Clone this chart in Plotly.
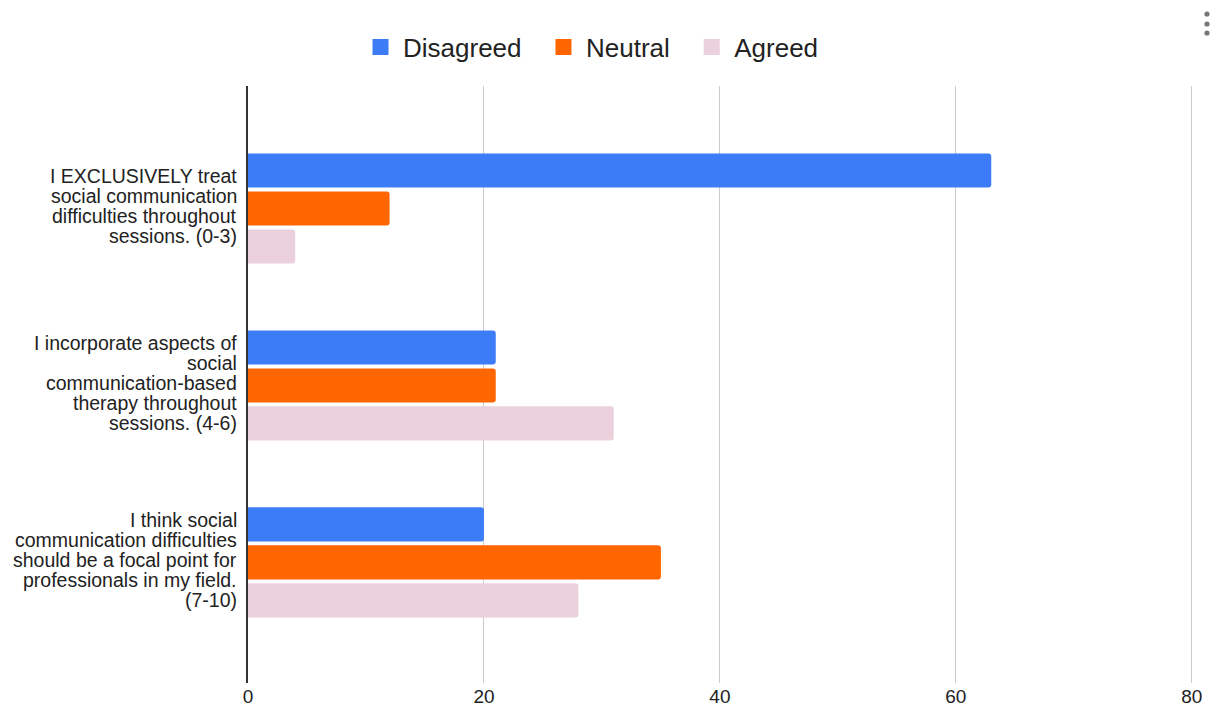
import plotly.graph_objects as go

# Survey responses per statement
categories = ["stmt_0_3", "stmt_4_6", "stmt_7_10"]
label_lines = [
    ["I EXCLUSIVELY treat", "social communication", "difficulties throughout", "sessions. (0-3)"],
    ["I incorporate aspects of", "social", "communication-based", "therapy throughout", "sessions. (4-6)"],
    ["I think social", "communication difficulties", "should be a focal point for",
     "professionals in my field.", "(7-10)"],
]
series_names = ["Disagreed", "Neutral", "Agreed"]
disagreed = [63, 21, 20]
neutral = [12, 21, 35]
agreed = [4, 31, 28]
x_ticks = [0, 20, 40, 60, 80]

colors = ["#3c7cf7", "#ff6600", "#ead1dc"]
font_family = "Liberation Sans, Arial, sans-serif"

fig = go.Figure()
for name, vals, col in zip(series_names, [disagreed, neutral, agreed], colors):
    fig.add_trace(go.Bar(
        y=categories, x=vals, name=name, orientation="h",
        marker=dict(color=col, line=dict(width=0)),
        showlegend=False, hoverinfo="x+name",
    ))
    # legend swatch
    fig.add_trace(go.Scatter(
        x=[None], y=[None], mode="markers", name=name + "\u00a0\u00a0",
        marker=dict(symbol="square", size=20, color=col),
    ))

# Multi-line category labels, one text line per annotation for tight spacing
line_step = 20
annotations = []
for cat, lines in zip(categories, label_lines):
    n = len(lines)
    for i, line in enumerate(lines):
        annotations.append(dict(
            xref="paper", x=0, xanchor="right", xshift=-9,
            yref="y", y=cat, yanchor="middle",
            yshift=((n - 1) / 2 - i) * line_step + 2,
            text=line, showarrow=False, align="right",
            font=dict(family=font_family, size=19.5, color="#222222"),
        ))

# Menu dots in the top-right corner
plot_w = 945
shapes = []
for dy in [14, 24, 33]:
    shapes.append(dict(
        type="circle", xref="paper", yref="paper",
        xsizemode="pixel", ysizemode="pixel",
        xanchor=(1207 - 248) / plot_w, yanchor=(683 - dy) / 597,
        x0=-2.6, x1=2.6, y0=-2.6, y1=2.6,
        fillcolor="#777777", line=dict(width=0),
    ))

fig.update_layout(
    width=1213, height=710,
    margin=dict(l=248, r=20, t=86, b=27, autoexpand=False),
    paper_bgcolor="white", plot_bgcolor="white",
    barmode="group", bargap=0.356, bargroupgap=0.1, barcornerradius=3,
    font=dict(family=font_family, color="#222222"),
    legend=dict(
        orientation="h", xref="container", yref="container",
        x=358 / 1213, xanchor="left", y=1 - 47 / 710, yanchor="middle",
        font=dict(size=26, color="#222222"), itemwidth=35,
        bgcolor="rgba(0,0,0,0)",
    ),
    xaxis=dict(
        range=[0, 80.1], tickvals=x_ticks, ticktext=[str(v) for v in x_ticks],
        showgrid=True, gridcolor="#cccccc", gridwidth=1,
        zeroline=False, showline=False, ticks="", automargin=False,
        tickfont=dict(size=19, color="#222222"),
    ),
    yaxis=dict(
        type="category", categoryorder="array", categoryarray=categories,
        range=[2.681, -0.692], autorange=False, automargin=False,
        showticklabels=False, showgrid=False, zeroline=False,
        showline=True, linecolor="#333333", linewidth=2, ticks="",
    ),
    annotations=annotations,
    shapes=shapes,
)

fig.write_html("out.html")
